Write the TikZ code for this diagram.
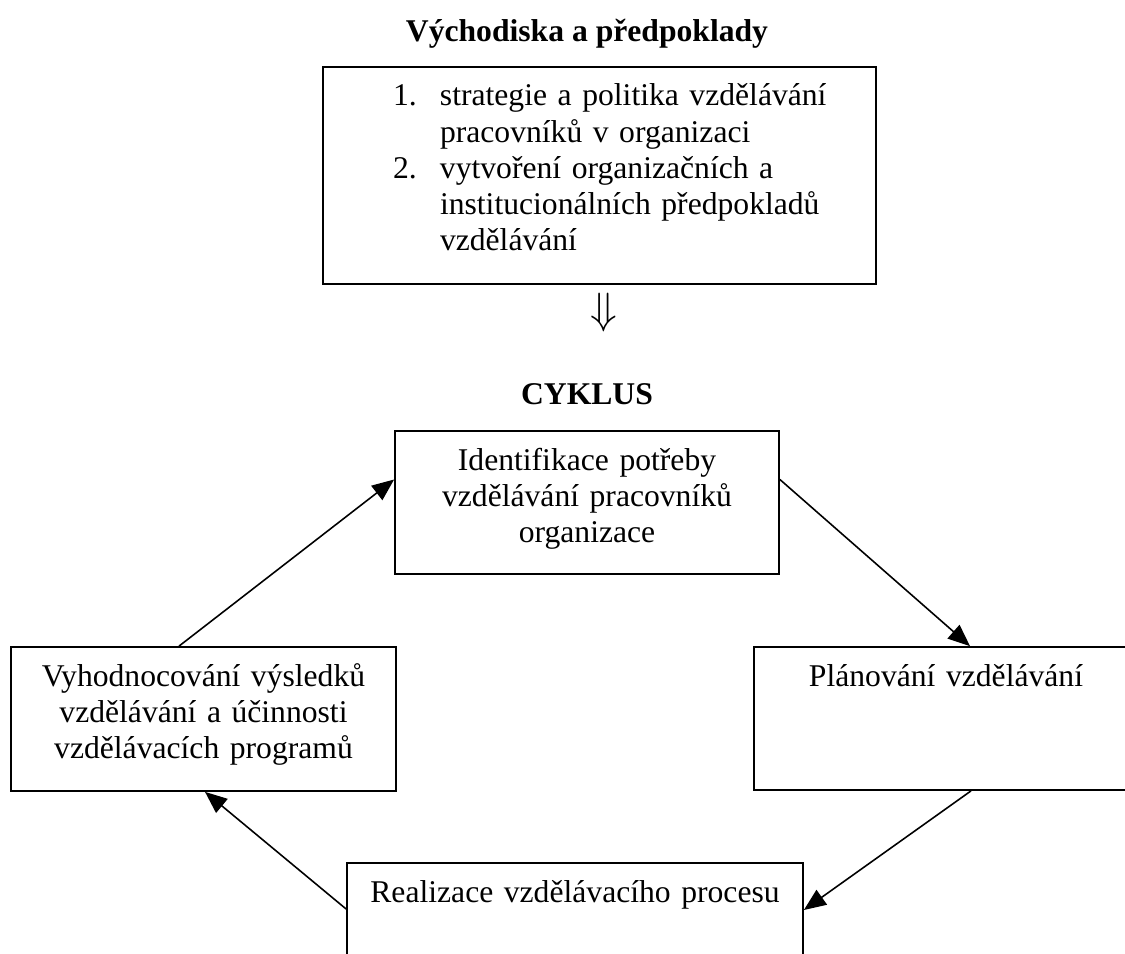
\documentclass[tikz,border=0pt]{standalone}
\usepackage{fontspec}
\setmainfont{Liberation Serif}
\usetikzlibrary{arrows.meta}

\tikzset{
  krok/.style={draw, line width=1pt, inner sep=0pt, align=center, text height=0.78cm},
  sipka/.style={-{Triangle[length=0.44cm, width=0.36cm]}, line width=0.9pt},
}

\begin{document}
\begin{tikzpicture}[every node/.style={font=\fontsize{18}{20.6}\selectfont}]
  \useasboundingbox (0, 0) rectangle (22.5, -19.06);

  % Vychodiska (top)
  \node[font=\fontsize{18}{20.6}\selectfont\bfseries, anchor=base] (vychodiska) at (11.74, -0.84) {Východiska a předpoklady};
  \node[krok, align=left, text width=11.06cm, text depth=3.56cm] (predpoklady) at (11.99, -3.51) {%
    \hspace*{1.4cm}\makebox[0.94cm][l]{1.}strategie a politika vzdělávání\\
    \hspace*{2.34cm}pracovníků v organizaci\\
    \hspace*{1.4cm}\makebox[0.94cm][l]{2.}vytvoření organizačních a\\
    \hspace*{2.34cm}institucionálních předpokladů\\
    \hspace*{2.34cm}vzdělávání};
  \node[font=\fontsize{27}{27}\selectfont] (dolu) at (12.07, -6.25) {$\Downarrow$};

  % Cyklus
  \node[font=\fontsize{18}{20.6}\selectfont\bfseries, anchor=base] (cyklus) at (11.74, -8.08) {CYKLUS};
  \node[krok, text width=7.68cm, text depth=2.08cm] (identifikace) at (11.74, -10.05) {Identifikace potřeby\\vzdělávání pracovníků\\organizace};
  \node[krok, text width=7.68cm, text depth=2.08cm] (planovani) at (18.92, -14.37) {Plánování vzdělávání};
  \node[krok, text width=9.12cm, text depth=2.10cm] (realizace) at (11.50, -18.70) {Realizace vzdělávacího procesu};
  \node[krok, text width=7.70cm, text depth=2.10cm] (vyhodnocovani) at (4.07, -14.38) {Vyhodnocování výsledků\\vzdělávání a účinnosti\\vzdělávacích programů};

  \draw[sipka] ([xshift=-0.49cm]vyhodnocovani.north) -- ([yshift=0.46cm]identifikace.west);
  \draw[sipka] ([yshift=0.46cm]identifikace.east) -- ([xshift=0.48cm]planovani.north);
  \draw[sipka] ([xshift=0.50cm]planovani.south) -- ([yshift=0.50cm]realizace.east);
  \draw[sipka] ([yshift=0.52cm]realizace.west) -- ([xshift=0.03cm]vyhodnocovani.south);
\end{tikzpicture}
\end{document}
